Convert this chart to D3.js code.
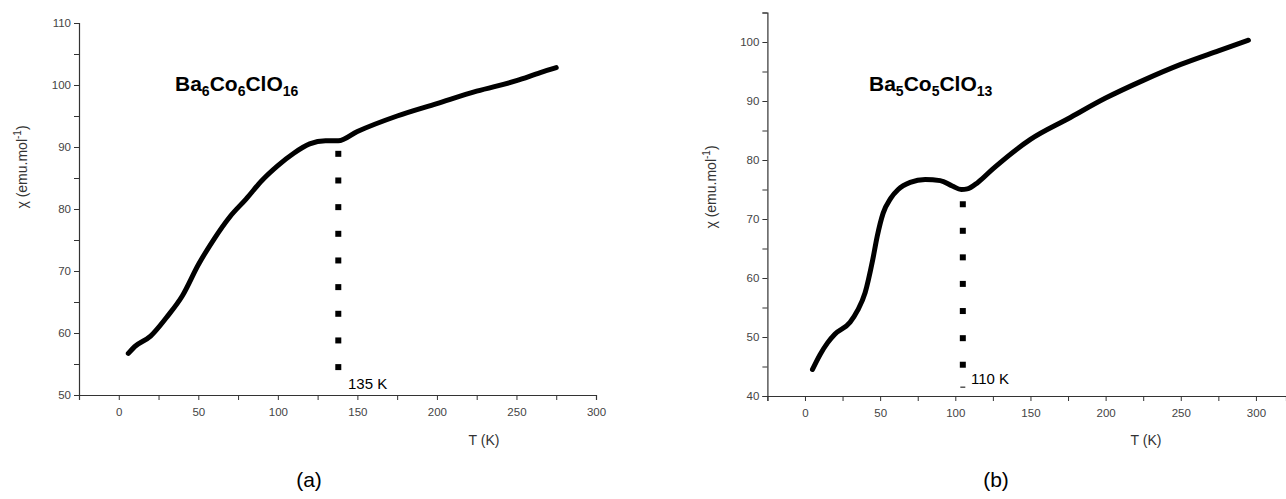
<!DOCTYPE html>
<html><head><meta charset="utf-8">
<script src="https://cdn.jsdelivr.net/npm/d3@7"></script>
<style>body{margin:0;background:#fff}text{font-family:Arial,"Liberation Sans",sans-serif}</style>
</head><body><svg id="c" width="1286" height="499"></svg>
<script>
// panel (a) Ba6Co6ClO16
const tA = [6,10,20,30,40,50,60,70,80,90,100,110,120,130,138,150,175,200,225,250,265,275];
const chiA = [56.7,57.8,59.5,62.5,66,71,75.2,78.8,81.6,84.6,87,89,90.5,91,91,92.5,95,97,99,100.7,102,102.8];
const dotsA = [54.5,58.8,63.1,67.4,71.7,76,80.3,84.6,88.9];
// panel (b) Ba5Co5ClO13
const tB = [5,10,15,20,30,35,40,45,48,52,57,62,70,80,90,98,104,108,115,125,150,175,200,225,250,275,295];
const chiB = [44.5,47,49,50.5,52.5,54.5,57.5,63,67,71,73.5,75,76.2,76.7,76.5,75.6,75,75.1,76.2,78.5,83.5,87,90.5,93.5,96.2,98.5,100.3];
const dotsB = [45.3,49.8,54.4,59,63.5,68,72.5];
const xTicks = [0,50,100,150,200,250,300];

const svg = d3.select("#c");

function panel(o){
  const x = d3.scaleLinear().domain(o.xd).range(o.xr);
  const y = d3.scaleLinear().domain(o.yd).range(o.yr);
  const g = svg.append("g");
  const xa = g.append("g").attr("transform",`translate(0,${o.yr[0]})`)
    .call(d3.axisBottom(x).tickValues(d3.range(-25,o.xd[1]+1,25)).tickSize(5).tickPadding(8).tickFormat(d=>xTicks.includes(d)?d:""));
  const ya = g.append("g").attr("transform",`translate(${o.xr[0]},0)`)
    .call(d3.axisLeft(y).tickValues(d3.range(o.yd[0],o.yd[1]+0.1,5)).tickSize(5).tickFormat(d=>d%10===0 && d<=o.ymaxLab?d:""));
  [xa,ya].forEach(a=>{
    a.selectAll("path,line").attr("stroke","#333").attr("stroke-width",1.2);
    a.selectAll("text").attr("fill","#444").attr("font-size",11.5);
    a.selectAll(".tick line").attr("stroke-width",1);
  });
  g.append("path").datum(o.t.map((t,i)=>[t,o.chi[i]]))
    .attr("d",d3.line().x(d=>x(d[0])).y(d=>y(d[1])).curve(d3.curveMonotoneX))
    .attr("fill","none").attr("stroke","#000").attr("stroke-width",5).attr("stroke-linecap","round");
  g.selectAll(".dot").data(o.dots).join("rect")
    .attr("x",x(o.tc)-3).attr("y",d=>y(d)-3).attr("width",6).attr("height",6).attr("fill","#000");
  if(o.dash) g.append("line").attr("x1",x(o.tc)-2.5).attr("x2",x(o.tc)+2.5).attr("y1",y(o.dash)).attr("y2",y(o.dash)).attr("stroke","#000");
  g.append("text").attr("x",o.tcX).attr("y",o.tcY).attr("font-size",15).text(o.tcLab);
  const ti = g.append("text").attr("x",o.titleX).attr("y",o.titleY).attr("font-weight","bold");
  let prevSub = false;
  o.title.forEach(([s,sub])=>{
    ti.append("tspan").attr("font-size",sub?14:21).attr("dy",sub?5:(prevSub?-5:0)).text(s);
    prevSub = sub;
  });
  g.append("text").attr("x",o.tkX).attr("y",445).attr("font-size",14).attr("fill","#333").attr("text-anchor","middle").text("T (K)");
  const yl = g.append("text").attr("transform",`translate(${o.ylX},${o.ylY}) rotate(-90)`).attr("font-size",14).attr("fill","#333").attr("text-anchor","middle");
  yl.append("tspan").text("χ (emu.mol");
  yl.append("tspan").attr("dy",-6).attr("font-size",10).text("-1");
  yl.append("tspan").attr("dy",6).text(")");
  g.append("text").attr("x",o.labX).attr("y",487).attr("font-size",21).attr("text-anchor","middle").text(o.lab);
}

panel({xd:[-25,300],xr:[79,596],yd:[50,110],yr:[395,23],ymaxLab:110,t:tA,chi:chiA,dots:dotsA,tc:138,tcX:348,tcY:389,tcLab:"135 K",
  title:[["Ba",0],["6",1],["Co",0],["6",1],["ClO",0],["16",1]],titleX:175,titleY:91,tkX:484,ylX:27,ylY:167,labX:309,lab:"(a)"});
panel({xd:[-25,320],xr:[767.4,1286],yd:[40,105],yr:[396,12.5],ymaxLab:100,t:tB,chi:chiB,dots:dotsB,tc:105,dash:41.5,tcX:971,tcY:384,tcLab:"110 K",
  title:[["Ba",0],["5",1],["Co",0],["5",1],["ClO",0],["13",1]],titleX:869,titleY:91,tkX:1146,ylX:716,ylY:187,labX:996,lab:"(b)"});
</script></body></html>
